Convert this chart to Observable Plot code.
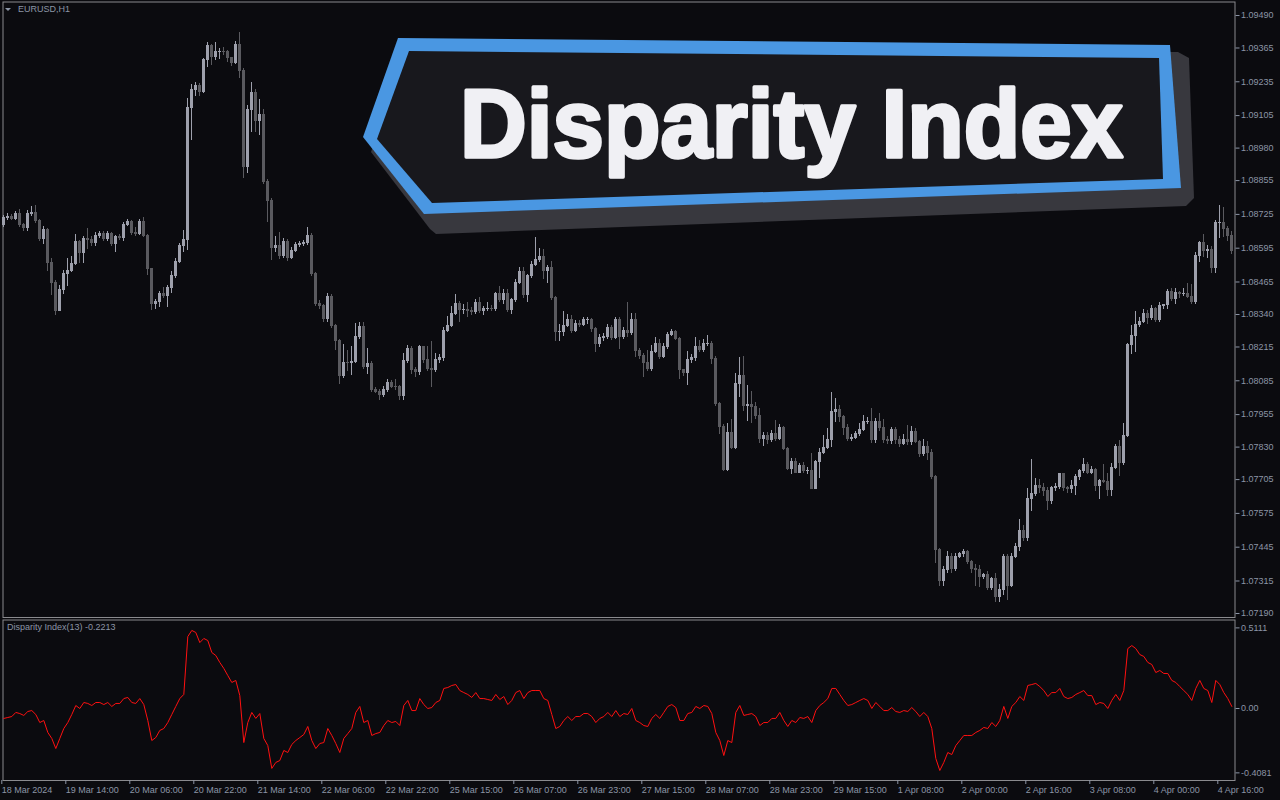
<!DOCTYPE html>
<html><head><meta charset="utf-8">
<script src="https://cdn.jsdelivr.net/npm/d3@7"></script>
<script src="https://cdn.jsdelivr.net/npm/@observablehq/plot@0.6"></script>
<style>
html,body{margin:0;padding:0;background:#0b0b0f;width:1280px;height:800px;overflow:hidden;}
#wrap{position:relative;width:1280px;height:800px;background:#0b0b0f;}
#main,#sub,#banner{position:absolute;left:0;}
#main{top:0}
#sub{top:619px}
#banner{top:0;pointer-events:none}
.lbl{position:absolute;font-family:"Liberation Sans",Arial,sans-serif;font-size:9px;color:#8c95a6;white-space:nowrap;line-height:11px;}
</style></head>
<body><div id="wrap">
<div id="main"></div><div id="sub"></div>
<div class="lbl" style="left:18px;top:4px">EURUSD,H1</div>
<div class="lbl" style="left:7px;top:622px">Disparity Index(13) -0.2213</div>
<div id="banner"></div>
</div>
<script>
// ---------------- data ----------------
const open = [
1.08684,1.08712,1.08714,1.08709,1.08727,1.08684,1.08671,1.08727,1.08732,1.08699,
1.08632,1.08666,1.08537,1.08463,1.08355,1.08435,1.08497,1.08507,1.08535,1.08617,
1.08576,1.08630,1.08627,1.08614,1.08643,1.08648,1.08630,1.08648,1.08612,1.08637,
1.08635,1.08684,1.08694,1.08655,1.08650,1.08694,1.08643,1.08514,1.08379,1.08389,
1.08420,1.08412,1.08440,1.08489,1.08540,1.08602,1.08625,1.09135,1.09204,1.09220,
1.09197,1.09317,1.09371,1.09330,1.09348,1.09350,1.09348,1.09325,1.09309,1.09376,
1.09278,1.08907,1.09125,1.09191,1.09086,1.09109,1.08848,1.08778,1.08594,1.08602,
1.08566,1.08620,1.08558,1.08586,1.08607,1.08612,1.08614,1.08643,1.08494,1.08379,
1.08371,1.08322,1.08409,1.08294,1.08237,1.08102,1.08155,1.08153,1.08158,1.08255,
1.08291,1.08137,1.08150,1.08048,1.08043,1.08030,1.08048,1.08076,1.08063,1.08061,
1.08025,1.08163,1.08209,1.08127,1.08117,1.08214,1.08166,1.08130,1.08127,1.08166,
1.08171,1.08278,1.08297,1.08343,1.08381,1.08358,1.08358,1.08353,1.08348,1.08386,
1.08355,1.08360,1.08363,1.08360,1.08420,1.08394,1.08417,1.08358,1.08394,1.08463,
1.08502,1.08414,1.08489,1.08532,1.08548,1.08563,1.08509,1.08520,1.08402,1.08271,
1.08274,1.08297,1.08320,1.08276,1.08304,1.08299,1.08317,1.08317,1.08286,1.08225,
1.08250,1.08255,1.08289,1.08250,1.08317,1.08253,1.08278,1.08268,1.08320,1.08199,
1.08181,1.08155,1.08132,1.08197,1.08225,1.08178,1.08214,1.08263,1.08274,1.08245,
1.08125,1.08114,1.08166,1.08171,1.08214,1.08204,1.08227,1.08227,1.08168,1.07994,
1.07907,1.07740,1.07884,1.07825,1.08074,1.08102,1.07989,1.07991,1.07984,1.07951,
1.07863,1.07871,1.07856,1.07881,1.07863,1.07902,1.07822,1.07745,1.07774,1.07732,
1.07756,1.07737,1.07737,1.07668,1.07771,1.07809,1.07827,1.07858,1.07966,1.07971,
1.07945,1.07902,1.07863,1.07866,1.07879,1.07897,1.07925,1.07927,1.07856,1.07925,
1.07902,1.07856,1.07853,1.07894,1.07856,1.07843,1.07856,1.07851,1.07889,1.07848,
1.07804,1.07832,1.07809,1.07714,1.07435,1.07314,1.07356,1.07409,1.07363,1.07407,
1.07417,1.07427,1.07389,1.07360,1.07358,1.07330,1.07337,1.07289,1.07322,1.07253,
1.07279,1.07409,1.07297,1.07409,1.07445,1.07507,1.07479,1.07632,1.07648,1.07679,
1.07671,1.07660,1.07622,1.07671,1.07676,1.07725,1.07671,1.07668,1.07679,1.07714,
1.07737,1.07763,1.07732,1.07743,1.07679,1.07699,1.07697,1.07666,1.07750,1.07830,
1.07768,1.07871,1.08222,1.08258,1.08299,1.08312,1.08340,1.08325,1.08360,1.08317,
1.08371,1.08376,1.08425,1.08399,1.08422,1.08420,1.08420,1.08409,1.08389,1.08566,
1.08614,1.08586,1.08589,1.08517,1.08691,1.08691,1.08668,1.08643];
const high = [
1.08722,1.08728,1.08724,1.08738,1.08742,1.08690,1.08740,1.08755,1.08760,1.08705,
1.08680,1.08670,1.08555,1.08470,1.08450,1.08509,1.08555,1.08563,1.08648,1.08625,
1.08640,1.08671,1.08640,1.08655,1.08660,1.08658,1.08660,1.08655,1.08645,1.08648,
1.08692,1.08707,1.08700,1.08676,1.08705,1.08712,1.08648,1.08518,1.08398,1.08430,
1.08445,1.08450,1.08504,1.08555,1.08612,1.08663,1.09171,1.09225,1.09232,1.09228,
1.09325,1.09386,1.09380,1.09386,1.09362,1.09366,1.09355,1.09330,1.09390,1.09425,
1.09285,1.09143,1.09232,1.09205,1.09166,1.09130,1.08860,1.08785,1.08640,1.08655,
1.08632,1.08628,1.08596,1.08618,1.08622,1.08625,1.08676,1.08650,1.08500,1.08392,
1.08380,1.08420,1.08415,1.08300,1.08245,1.08225,1.08200,1.08217,1.08304,1.08309,
1.08309,1.08209,1.08160,1.08060,1.08050,1.08062,1.08089,1.08085,1.08090,1.08068,
1.08191,1.08220,1.08215,1.08135,1.08220,1.08218,1.08218,1.08235,1.08190,1.08185,
1.08290,1.08332,1.08371,1.08417,1.08389,1.08380,1.08385,1.08365,1.08396,1.08405,
1.08372,1.08385,1.08375,1.08425,1.08448,1.08437,1.08435,1.08400,1.08474,1.08522,
1.08522,1.08495,1.08545,1.08635,1.08594,1.08590,1.08530,1.08543,1.08410,1.08300,
1.08352,1.08340,1.08335,1.08315,1.08318,1.08330,1.08330,1.08325,1.08290,1.08262,
1.08268,1.08300,1.08298,1.08330,1.08330,1.08290,1.08386,1.08343,1.08343,1.08210,
1.08190,1.08203,1.08219,1.08253,1.08245,1.08230,1.08271,1.08283,1.08280,1.08250,
1.08130,1.08197,1.08186,1.08253,1.08240,1.08245,1.08260,1.08235,1.08178,1.08000,
1.07915,1.07919,1.07935,1.08112,1.08173,1.08178,1.08066,1.08043,1.08000,1.07978,
1.07886,1.07885,1.07895,1.07932,1.07915,1.07910,1.07830,1.07785,1.07785,1.07765,
1.07770,1.07750,1.07807,1.07780,1.07825,1.07873,1.07900,1.08040,1.08017,1.07990,
1.07950,1.07915,1.07880,1.07890,1.07922,1.07950,1.07945,1.07978,1.07940,1.07960,
1.07935,1.07870,1.07905,1.07905,1.07870,1.07880,1.07914,1.07910,1.07900,1.07855,
1.07860,1.07850,1.07820,1.07720,1.07440,1.07370,1.07430,1.07420,1.07420,1.07425,
1.07435,1.07432,1.07392,1.07380,1.07375,1.07345,1.07350,1.07330,1.07345,1.07300,
1.07418,1.07418,1.07420,1.07460,1.07550,1.07530,1.07671,1.07781,1.07709,1.07705,
1.07690,1.07675,1.07680,1.07690,1.07730,1.07730,1.07680,1.07700,1.07725,1.07745,
1.07786,1.07770,1.07755,1.07748,1.07705,1.07763,1.07730,1.07765,1.07840,1.07855,
1.07920,1.08230,1.08299,1.08352,1.08330,1.08360,1.08355,1.08375,1.08365,1.08385,
1.08380,1.08435,1.08440,1.08440,1.08430,1.08440,1.08461,1.08455,1.08578,1.08622,
1.08648,1.08605,1.08600,1.08700,1.08758,1.08750,1.08680,1.08660];
const low = [
1.08676,1.08702,1.08700,1.08700,1.08676,1.08660,1.08660,1.08718,1.08690,1.08622,
1.08609,1.08507,1.08414,1.08337,1.08350,1.08417,1.08448,1.08500,1.08527,1.08537,
1.08537,1.08590,1.08600,1.08602,1.08632,1.08620,1.08622,1.08602,1.08580,1.08625,
1.08620,1.08680,1.08645,1.08640,1.08645,1.08635,1.08491,1.08355,1.08358,1.08365,
1.08400,1.08365,1.08422,1.08480,1.08535,1.08580,1.08586,1.09009,1.09178,1.09180,
1.09190,1.09290,1.09299,1.09315,1.09320,1.09335,1.09310,1.09295,1.09300,1.09248,
1.08863,1.08883,1.09040,1.09040,1.09030,1.08840,1.08694,1.08548,1.08578,1.08553,
1.08555,1.08545,1.08550,1.08578,1.08597,1.08600,1.08605,1.08485,1.08370,1.08360,
1.08310,1.08310,1.08285,1.08202,1.08071,1.08095,1.08120,1.08107,1.08150,1.08245,
1.08128,1.08110,1.08040,1.08035,1.08009,1.08022,1.08040,1.08055,1.08048,1.08009,
1.08009,1.08150,1.08109,1.08097,1.08105,1.08150,1.08120,1.08060,1.08115,1.08153,
1.08160,1.08270,1.08290,1.08335,1.08310,1.08340,1.08330,1.08338,1.08340,1.08345,
1.08337,1.08350,1.08350,1.08350,1.08385,1.08380,1.08348,1.08340,1.08385,1.08455,
1.08400,1.08385,1.08480,1.08525,1.08540,1.08476,1.08459,1.08395,1.08237,1.08238,
1.08255,1.08290,1.08265,1.08270,1.08290,1.08295,1.08300,1.08270,1.08194,1.08212,
1.08238,1.08245,1.08240,1.08245,1.08204,1.08245,1.08252,1.08260,1.08173,1.08165,
1.08097,1.08120,1.08120,1.08190,1.08165,1.08170,1.08205,1.08255,1.08240,1.08091,
1.08102,1.08068,1.08150,1.08160,1.08195,1.08195,1.08215,1.08148,1.07985,1.07880,
1.07738,1.07735,1.07820,1.07820,1.08019,1.07968,1.07930,1.07920,1.07935,1.07845,
1.07832,1.07840,1.07848,1.07850,1.07855,1.07815,1.07740,1.07725,1.07728,1.07728,
1.07730,1.07725,1.07665,1.07665,1.07709,1.07800,1.07820,1.07830,1.07925,1.07925,
1.07873,1.07850,1.07852,1.07860,1.07870,1.07890,1.07915,1.07845,1.07845,1.07890,
1.07845,1.07840,1.07840,1.07840,1.07828,1.07835,1.07835,1.07835,1.07845,1.07790,
1.07795,1.07780,1.07705,1.07384,1.07294,1.07294,1.07345,1.07345,1.07350,1.07400,
1.07405,1.07380,1.07345,1.07294,1.07290,1.07320,1.07280,1.07278,1.07232,1.07232,
1.07260,1.07240,1.07290,1.07400,1.07430,1.07465,1.07468,1.07581,1.07640,1.07650,
1.07640,1.07586,1.07610,1.07660,1.07665,1.07660,1.07650,1.07650,1.07645,1.07700,
1.07730,1.07725,1.07725,1.07660,1.07630,1.07690,1.07640,1.07640,1.07745,1.07717,
1.07760,1.07865,1.08186,1.08194,1.08290,1.08305,1.08300,1.08318,1.08310,1.08310,
1.08360,1.08360,1.08390,1.08380,1.08400,1.08410,1.08400,1.08380,1.08380,1.08540,
1.08560,1.08555,1.08499,1.08499,1.08632,1.08635,1.08620,1.08570];
const close = [
1.08712,1.08714,1.08709,1.08727,1.08684,1.08671,1.08727,1.08732,1.08699,1.08632,
1.08666,1.08537,1.08463,1.08355,1.08435,1.08497,1.08507,1.08535,1.08617,1.08576,
1.08630,1.08627,1.08614,1.08643,1.08648,1.08630,1.08648,1.08612,1.08637,1.08635,
1.08684,1.08694,1.08655,1.08650,1.08694,1.08643,1.08514,1.08379,1.08389,1.08420,
1.08412,1.08440,1.08489,1.08540,1.08602,1.08625,1.09135,1.09204,1.09220,1.09197,
1.09317,1.09371,1.09330,1.09348,1.09350,1.09348,1.09325,1.09309,1.09376,1.09278,
1.08907,1.09125,1.09191,1.09086,1.09109,1.08848,1.08778,1.08594,1.08602,1.08566,
1.08620,1.08558,1.08586,1.08607,1.08612,1.08614,1.08643,1.08494,1.08379,1.08371,
1.08322,1.08409,1.08294,1.08237,1.08102,1.08155,1.08153,1.08158,1.08255,1.08291,
1.08137,1.08150,1.08048,1.08043,1.08030,1.08048,1.08076,1.08063,1.08061,1.08025,
1.08163,1.08209,1.08127,1.08117,1.08214,1.08166,1.08130,1.08127,1.08166,1.08171,
1.08278,1.08297,1.08343,1.08381,1.08358,1.08358,1.08353,1.08348,1.08386,1.08355,
1.08360,1.08363,1.08360,1.08420,1.08394,1.08417,1.08358,1.08394,1.08463,1.08502,
1.08414,1.08489,1.08532,1.08548,1.08563,1.08509,1.08520,1.08402,1.08271,1.08274,
1.08297,1.08320,1.08276,1.08304,1.08299,1.08317,1.08317,1.08286,1.08225,1.08250,
1.08255,1.08289,1.08250,1.08317,1.08253,1.08278,1.08268,1.08320,1.08199,1.08181,
1.08155,1.08132,1.08197,1.08225,1.08178,1.08214,1.08263,1.08274,1.08245,1.08125,
1.08114,1.08166,1.08171,1.08214,1.08204,1.08227,1.08227,1.08168,1.07994,1.07907,
1.07740,1.07884,1.07825,1.08074,1.08102,1.07989,1.07991,1.07984,1.07951,1.07863,
1.07871,1.07856,1.07881,1.07863,1.07902,1.07822,1.07745,1.07774,1.07732,1.07756,
1.07737,1.07737,1.07668,1.07771,1.07809,1.07827,1.07858,1.07966,1.07971,1.07945,
1.07902,1.07863,1.07866,1.07879,1.07897,1.07925,1.07927,1.07856,1.07925,1.07902,
1.07856,1.07853,1.07894,1.07856,1.07843,1.07856,1.07851,1.07889,1.07848,1.07804,
1.07832,1.07809,1.07714,1.07435,1.07314,1.07356,1.07409,1.07363,1.07407,1.07417,
1.07427,1.07389,1.07360,1.07358,1.07330,1.07337,1.07289,1.07322,1.07253,1.07279,
1.07409,1.07297,1.07409,1.07445,1.07507,1.07479,1.07632,1.07648,1.07679,1.07671,
1.07660,1.07622,1.07671,1.07676,1.07725,1.07671,1.07668,1.07679,1.07714,1.07737,
1.07763,1.07732,1.07743,1.07679,1.07699,1.07697,1.07666,1.07750,1.07830,1.07768,
1.07871,1.08222,1.08258,1.08299,1.08312,1.08340,1.08325,1.08360,1.08317,1.08371,
1.08376,1.08425,1.08399,1.08422,1.08420,1.08420,1.08409,1.08389,1.08566,1.08614,
1.08586,1.08589,1.08517,1.08691,1.08691,1.08668,1.08643,1.08586];
const disparity = [
-0.063,-0.057,-0.051,-0.025,-0.032,-0.044,-0.019,-0.013,-0.038,-0.089,
-0.076,-0.152,-0.190,-0.254,-0.190,-0.127,-0.089,-0.038,0.019,0.000,
0.038,0.032,0.019,0.038,0.038,0.025,0.038,0.013,0.032,0.032,
0.063,0.070,0.038,0.032,0.063,0.025,-0.076,-0.203,-0.184,-0.139,
-0.127,-0.089,-0.038,0.013,0.063,0.089,0.456,0.495,0.482,0.418,
0.444,0.431,0.355,0.336,0.292,0.254,0.209,0.165,0.178,0.082,
-0.216,-0.089,-0.025,-0.063,-0.032,-0.190,-0.235,-0.380,-0.342,-0.330,
-0.266,-0.279,-0.228,-0.203,-0.184,-0.165,-0.114,-0.203,-0.254,-0.222,
-0.216,-0.127,-0.171,-0.222,-0.279,-0.190,-0.159,-0.127,-0.025,0.013,
-0.089,-0.076,-0.171,-0.159,-0.152,-0.108,-0.076,-0.089,-0.082,-0.108,
0.019,0.051,-0.013,-0.013,0.063,0.025,0.000,0.006,0.038,0.051,
0.127,0.133,0.146,0.152,0.114,0.101,0.089,0.070,0.101,0.063,
0.063,0.057,0.051,0.089,0.057,0.076,0.025,0.051,0.101,0.114,
0.063,0.101,0.114,0.114,0.114,0.063,0.051,-0.038,-0.127,-0.114,
-0.076,-0.051,-0.076,-0.051,-0.051,-0.032,-0.032,-0.051,-0.089,-0.063,
-0.051,-0.025,-0.051,-0.013,-0.051,-0.032,-0.038,0.000,-0.076,-0.089,
-0.108,-0.114,-0.063,-0.038,-0.063,-0.025,0.013,0.025,0.006,-0.076,
-0.076,-0.032,-0.025,0.013,0.000,0.019,0.013,-0.032,-0.152,-0.203,
-0.298,-0.203,-0.216,-0.025,0.019,-0.044,-0.038,-0.032,-0.051,-0.108,
-0.089,-0.089,-0.063,-0.063,-0.025,-0.076,-0.114,-0.076,-0.089,-0.057,
-0.063,-0.051,-0.089,-0.013,0.019,0.038,0.063,0.127,0.127,0.089,
0.051,0.019,0.025,0.038,0.051,0.063,0.051,0.000,0.038,0.013,
-0.013,-0.013,0.006,-0.019,-0.025,-0.013,-0.019,0.006,-0.019,-0.051,
-0.025,-0.051,-0.127,-0.317,-0.393,-0.342,-0.279,-0.292,-0.235,-0.203,
-0.171,-0.171,-0.171,-0.152,-0.139,-0.120,-0.127,-0.089,-0.114,-0.076,
0.013,-0.063,0.013,0.038,0.076,0.051,0.146,0.152,0.159,0.139,
0.114,0.076,0.101,0.101,0.127,0.076,0.063,0.070,0.089,0.101,
0.114,0.082,0.082,0.025,0.038,0.032,0.000,0.051,0.089,0.051,
0.114,0.380,0.399,0.380,0.342,0.330,0.292,0.279,0.228,0.241,
0.222,0.222,0.178,0.165,0.139,0.114,0.089,0.051,0.127,0.178,
0.127,0.114,0.038,0.178,0.152,0.101,0.063,0.013];
const priceTicks = [1.09490,1.09365,1.09235,1.09105,1.08980,1.08855,1.08725,1.08595,1.08465,1.08340,
  1.08215,1.08085,1.07955,1.07830,1.07705,1.07575,1.07445,1.07315,1.07190];
const diTicks = [0.5111, 0, -0.4081];
const diTickLabels = ["0.5111", "0.00", "-0.4081"];
const timeLabels = ["18 Mar 2024","19 Mar 14:00","20 Mar 06:00","20 Mar 22:00","21 Mar 14:00","22 Mar 06:00",
  "22 Mar 22:00","25 Mar 15:00","26 Mar 07:00","26 Mar 23:00","27 Mar 15:00","28 Mar 07:00","28 Mar 23:00",
  "29 Mar 15:00","1 Apr 08:00","2 Apr 00:00","2 Apr 16:00","3 Apr 08:00","4 Apr 00:00","4 Apr 16:00"];
const barsPerLabel = 16;

// ---------------- styles ----------------
const TXT = "#8c95a6", FRAME = "#8a8a8e";
const BULL = "#9ea0ac", BEAR = "#5a5a5f";
const FONT = "Liberation Sans, Arial, sans-serif";

const N = close.length;
const bars = d3.range(N).map(i => ({i, o: open[i], h: high[i], l: low[i], c: close[i], di: disparity[i]}));
const bullBars = bars.filter(d => d.c >= d.o);
const bearBars = bars.filter(d => d.c < d.o);
const xDomain = [-0.2, N - 0.2];

const main = Plot.plot({
  width: 1280, height: 619,
  marginLeft: 2.5, marginRight: 45.5, marginTop: 1.5, marginBottom: 2,
  style: {background: "transparent", color: TXT, fontFamily: FONT, fontSize: "9px", overflow: "visible"},
  x: {domain: xDomain, axis: null, label: null},
  y: {domain: [1.071746, 1.095419], axis: null, label: null},
  marks: [
    Plot.frame({stroke: FRAME}),
    Plot.ruleX(bearBars, {x: "i", y1: "l", y2: "h", stroke: BEAR, strokeWidth: 1, shapeRendering: "crispEdges"}),
    Plot.ruleX(bullBars, {x: "i", y1: "l", y2: "h", stroke: BULL, strokeWidth: 1, shapeRendering: "crispEdges"}),
    Plot.rect(bearBars, {x1: d => d.i - 0.375, x2: d => d.i + 0.375, y1: "o", y2: "c", fill: BEAR, insetTop: -0.5, insetBottom: -0.5, shapeRendering: "crispEdges"}),
    Plot.rect(bullBars, {x1: d => d.i - 0.375, x2: d => d.i + 0.375, y1: "o", y2: "c", fill: BULL, insetTop: -0.5, insetBottom: -0.5, shapeRendering: "crispEdges"}),
    Plot.axisY({anchor: "right", label: null, ticks: priceTicks, tickFormat: d3.format(".5f"), tickSize: 4, tickPadding: 2, stroke: TXT, fill: TXT})
  ]
});
document.getElementById("main").appendChild(main);

const sub = Plot.plot({
  width: 1280, height: 181,
  marginLeft: 2.5, marginRight: 45.5, marginTop: 0.5, marginBottom: 20,
  style: {background: "transparent", color: TXT, fontFamily: FONT, fontSize: "9px", overflow: "visible"},
  x: {domain: xDomain, axis: null, label: null},
  y: {domain: [-0.4565, 0.5611], axis: null, label: null},
  marks: [
    Plot.frame({stroke: FRAME}),
    Plot.line(bars, {x: "i", y: "di", stroke: "#ff1010", strokeWidth: 1}),
    Plot.axisY({anchor: "right", label: null, ticks: diTicks, tickFormat: d => diTickLabels[diTicks.indexOf(d)], tickSize: 4, tickPadding: 2, stroke: TXT, fill: TXT}),
    Plot.axisX({anchor: "bottom", label: null, ticks: d3.range(timeLabels.length).map(k => k * barsPerLabel),
      tickFormat: d => timeLabels[d / barsPerLabel], textAnchor: "start", dx: -2, tickSize: 4, tickPadding: 2, stroke: TXT, fill: TXT})
  ]
});
document.getElementById("sub").appendChild(sub);

// ---------------- banner overlay ----------------
const svg = d3.select("#banner").append("svg").attr("width", 1280).attr("height", 800);
svg.append("polygon").attr("points", "371,152 405,56 1178,52 1189,58 1194,198 1186,206 436,234 430,229").attr("fill", "#38383e");
svg.append("polygon").attr("points", "363,137 398,38 1170,45 1181,188 424,214").attr("fill", "#4a97e2");
svg.append("polygon").attr("points", "377,139 409,51 1159,58 1163,179 432,203").attr("fill", "#18181d");
svg.append("text").attr("x", 460).attr("y", 157)
  .attr("font-family", FONT).attr("font-weight", "bold").attr("font-size", 96)
  .attr("fill", "#f0f0f4").attr("stroke", "#f0f0f4").attr("stroke-width", 3.5).attr("stroke-linejoin", "round")
  .attr("textLength", 663).attr("lengthAdjust", "spacingAndGlyphs")
  .text("Disparity Index");
// symbol dropdown triangle
svg.append("path").attr("d", "M5,8 L11,8 L8,11 Z").attr("fill", TXT);
</script>
</body></html>
